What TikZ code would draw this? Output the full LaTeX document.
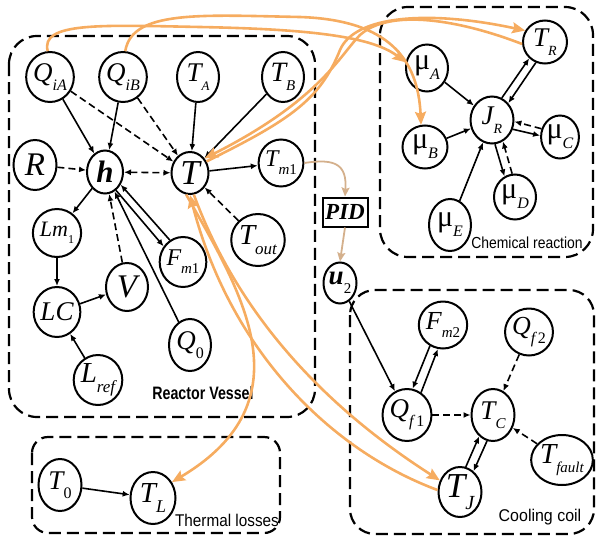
\documentclass[tikz,border=0pt]{standalone}
\usepackage{graphicx}
\usepackage{fontspec}
\setmainfont{Liberation Serif}
\newfontfamily\lsans{Liberation Sans}
\usetikzlibrary{shapes.geometric,arrows.meta}
\definecolor{org}{RGB}{246,172,96}
\definecolor{pidc}{RGB}{212,176,140}
\newcommand\mn[2]{\fontsize{#1}{#1}\selectfont\itshape #2}
\newcommand\subx[2][15]{\raisebox{-0.33em}{\fontsize{#1}{#1}\selectfont\itshape #2}}
\begin{document}
\begin{tikzpicture}[x=1pt,y=-1pt,
  nd/.style={ellipse,draw,line width=2pt,minimum width=43pt,minimum height=49pt,inner sep=0pt},
  sz/.style 2 args={minimum width=#1pt,minimum height=#2pt},
  ed/.style={line width=1.6pt,-{Latex[length=7pt,width=6pt]}},
  de/.style={ed,dash pattern=on 7pt off 4pt},
  box/.style={line width=2.2pt,dash pattern=on 12pt off 6pt,rounded corners=28pt},
  og/.style={draw=org,line width=2.6pt,-{Stealth[length=13pt,width=11pt,inset=2pt]}},
  pa/.style={draw=pidc,line width=1.8pt,-{Stealth[length=9pt,width=8pt,inset=1.5pt]}},
  lbl/.style={inner sep=0pt,font=\lsans}
]
\useasboundingbox (0,0) rectangle (597,536);
% boxes
\draw[box] (9,36) rectangle (315,417);
\draw[box] (380,7) rectangle (593,257);
\draw[box,rounded corners=25pt] (350,290) rectangle (594,534);
\draw[box,rounded corners=16pt] (32,437) rectangle (280,533);
% labels
\node[lbl,font=\lsans\bfseries\fontsize{18}{18}\selectfont] (lrv) at (203,393) {\scalebox{0.79}[1]{Reactor Vessel}};
\node[lbl,font=\lsans\fontsize{16}{16}\selectfont] (lcr) at (527,243) {\scalebox{0.87}[1]{Chemical reaction}};
\node[lbl,font=\lsans\fontsize{17}{17}\selectfont] (lcc) at (540,517) {\scalebox{0.94}[1]{Cooling coil}};
\node[lbl,font=\lsans\fontsize{17}{17}\selectfont] (ltl) at (227,520) {\scalebox{0.9}[1]{Thermal losses}};
% reactor vessel nodes
\node[nd,sz={42}{50}] (QiA) at (50,77) {\mn{27}{Q}\subx[16]{iA}};
\node[nd,sz={42}{50}] (QiB) at (123,77) {\mn{27}{Q}\subx[16]{iB}};
\node[nd,sz={42}{50}] (TA) at (198,77) {\mn{27}{T}\subx[13]{A}};
\node[nd,sz={42}{50}] (TB) at (283,77) {\mn{28}{T}\subx[15]{B}};
\node[nd,sz={43}{50}] (R) at (35,165) {\mn{33}{R}};
\node[nd,sz={36}{43}] (h) at (105,172) {\fontsize{31}{31}\selectfont\bfseries\itshape h};
\node[nd,sz={37}{42}] (T) at (190,173) {\mn{35}{T}};
\node[nd,sz={42}{47}] (Tm1) at (281,163) {\mn{24}{T}\subx[15]{m\upshape 1}};
\node[nd,sz={42}{48}] (Lm1) at (57,233) {\mn{22}{Lm}\subx[12]{\upshape 1}};
\node[nd,sz={43}{50}] (LC) at (57,312) {\mn{27}{LC}};
\node[nd,sz={42}{48}] (V) at (127,287) {\mn{33}{V}};
\node[nd,sz={40}{50}] (Fm1) at (183,262) {\mn{24}{F}\subx[15]{m\upshape 1}};
\node[nd,sz={42}{52}] (Tout) at (258,240) {\mn{29}{T}\subx[17]{out}};
\node[nd,sz={42}{52}] (Q0) at (190,345) {\mn{27}{Q}\subx[16]{\upshape 0}};
\node[nd,sz={42}{50}] (Lref) at (98,380) {\mn{29}{L}\subx[17]{ref}};
% chemical reaction nodes
\node[nd,sz={44}{43}] (TR) at (545,42) {\mn{27}{T}\subx[14]{R}};
\node[nd,sz={42}{47}] (muA) at (427,68) {\fontsize{30}{30}\selectfont μ\subx[16]{A}};
\node[nd,sz={43}{47}] (JR) at (492,120) {\mn{27}{J}\subx[14]{R}};
\node[nd,sz={45}{43}] (muB) at (425,147) {\fontsize{30}{30}\selectfont μ\subx[16]{B}};
\node[nd,sz={37}{43}] (muC) at (560,137) {\fontsize{30}{30}\selectfont μ\subx[16]{C}};
\node[nd,sz={42}{45}] (muD) at (515,197) {\fontsize{30}{30}\selectfont μ\subx[16]{D}};
\node[nd,sz={42}{52}] (muE) at (450,225) {\fontsize{30}{30}\selectfont μ\subx[16]{E}};
% PID and u2
\node[draw,line width=2pt,minimum width=45pt,minimum height=29pt,inner sep=0pt] (PID) at (345,212) {\fontsize{23}{23}\selectfont\bfseries\itshape PID};
\node[nd,sz={33}{41}] (u2) at (340,283) {\fontsize{27}{27}\selectfont\bfseries\itshape u\subx[15]{\upshape\mdseries 2}};
% cooling coil nodes
\node[nd,sz={45}{47}] (Fm2) at (443,325) {\mn{26}{F}\subx[15]{m\upshape 2}};
\node[nd,sz={45}{47}] (Qf2) at (529,332) {\mn{26}{Q}\subx[16]{f\,\upshape 2}};
\node[nd,sz={45}{52}] (Qf1) at (407,415) {\mn{27}{Q}\subx[16]{f\,\upshape 1}};
\node[nd,sz={43}{52}] (TC) at (493,415) {\mn{27}{T}\subx[15]{C}};
\node[nd,sz={43}{50}] (Tf) at (562,460) {\mn{29}{T}\subx[15]{fault}};
\node[nd,sz={43}{50}] (TJ) at (460,492) {\mn{35}{T}\subx[20]{J}};
% thermal losses nodes
\node[nd,sz={43}{52}] (T0) at (60,485) {\mn{27}{T}\subx[16]{\upshape 0}};
\node[nd,sz={45}{52}] (TL) at (153,498) {\mn{29}{T}\subx[18]{L}};
% reactor vessel edges
\draw[ed] (QiA) -- (h);
\draw[de] (QiA) -- (T);
\draw[ed] (QiB) -- (h);
\draw[de] (QiB) -- (T);
\draw[ed] (TA) -- (T);
\draw[ed] (TB) -- (T);
\draw[de] (R) -- (h);
\draw[de,{Latex[length=7pt,width=6pt]}-{Latex[length=7pt,width=6pt]}] (h) -- (T);
\draw[ed] (T) -- (Tm1);
\draw[ed] (h) -- (Lm1);
\draw[ed] (Lm1) -- (LC);
\draw[ed] (LC) -- (V);
\draw[de] (V) -- (h);
\draw[ed] (Fm1.121) -- (h.-39);
\draw[ed] (h.-59) -- (Fm1.141);
\draw[ed] (Q0) -- (h);
\draw[de] (Tout) -- (T);
\draw[ed] (Lref) -- (LC);
% chemical reaction edges
\draw[ed] (muA) -- (JR);
\draw[ed] (muB) -- (JR);
\draw[ed] (muE) -- (JR);
\draw[ed] (JR.66) -- (TR.226);
\draw[ed] (TR.246) -- (JR.46);
\draw[de] (muC.156) -- (JR.-4);
\draw[ed] (JR.-24) -- (muC.176);
\draw[de] (muD.97) -- (JR.-63);
\draw[ed] (JR.-83) -- (muD.117);
% cooling coil edges
\draw[ed] (u2) -- (Qf1);
\draw[ed] (Fm2.238) -- (Qf1.78);
\draw[ed] (Qf1.58) -- (Fm2.258);
\draw[de] (Qf2) -- (TC);
\draw[de] (Qf1) -- (TC);
\draw[de] (Tf) -- (TC);
\draw[ed] (TJ.77) -- (TC.237);
\draw[ed] (TC.257) -- (TJ.57);
% thermal losses edge
\draw[ed] (T0) -- (TL);
% PID loop
\draw[pa] (Tm1.east) .. controls (336,158) and (347,165) .. (PID.north);
\draw[pa] (PID.south) -- (u2.north);
% orange couplings
\draw[og] (QiA.95) .. controls (40,22) and (100,25) .. (200,27) .. controls (300,29) and (370,35) .. (muA.165);
\draw[og] (QiB.85) .. controls (132,10) and (200,15) .. (300,17) .. controls (390,20) and (418,60) .. (muB.100);
\draw[og] (T.35) .. controls (290,120) and (320,100) .. (340,50) .. controls (355,15) and (430,10) .. (TR.150);
\draw[og] (TR.185) .. controls (460,20) and (390,8) .. (360,35) .. controls (340,55) and (320,100) .. (T.45);
\draw[og] (T.-100) .. controls (240,290) and (310,400) .. (TL.40);
\draw[og] (T.-80) .. controls (240,320) and (330,410) .. (TJ.150);
\draw[og] (TJ.175) .. controls (330,450) and (230,350) .. (T.-90);
\end{tikzpicture}
\end{document}
